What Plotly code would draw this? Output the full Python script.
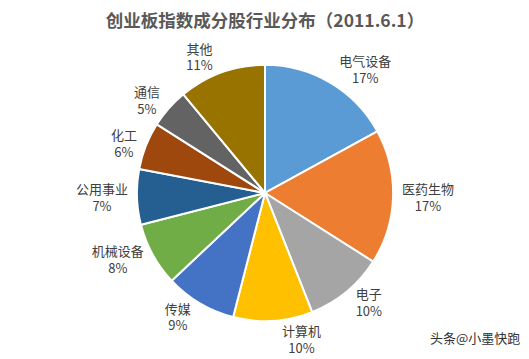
import plotly.graph_objects as go

labels = ["电气设备", "医药生物", "电子", "计算机", "传媒", "机械设备", "公用事业", "化工", "通信", "其他"]
values = [17, 17, 10, 10, 9, 8, 7, 6, 5, 11]
colors = ["#5B9BD5", "#ED7D31", "#A5A5A5", "#FFC000", "#4472C4", "#70AD47",
          "#255E91", "#9E480E", "#636363", "#997300"]

fig = go.Figure(go.Pie(
    labels=labels,
    values=values,
    sort=False,
    direction="clockwise",
    rotation=0,
    automargin=False,
    marker=dict(colors=colors, line=dict(color="white", width=2)),
    textposition="outside",
    texttemplate="%{label}<br>%{percent:.0%}",
    textfont=dict(family="Noto Sans CJK SC", size=13, color="#404040"),
    showlegend=False,
    domain=dict(x=[0.0, 0.9866], y=[0.108, 0.838]),
))

fig.update_layout(
    width=521, height=351,
    paper_bgcolor="white",
    margin=dict(l=0, r=0, t=0, b=0, autoexpand=False),
    title=dict(text="<b>创业板指数成分股行业分布（2011.6.1）</b>",
               x=0.4933, xanchor="center", y=0.962, yanchor="middle",
               font=dict(family="Noto Sans CJK SC", size=17.5, color="#595959")),
    annotations=[dict(text="头条@小墨快跑", x=0.9866, y=0.028, xref="paper", yref="paper",
                      xanchor="right", yanchor="bottom", showarrow=False,
                      font=dict(family="Noto Sans CJK SC", size=13, color="#333333"))],
)

fig.write_html("out.html")
